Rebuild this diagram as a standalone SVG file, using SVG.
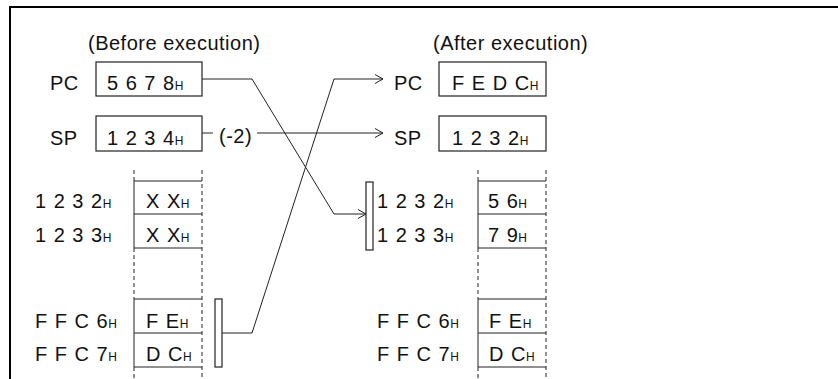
<svg xmlns="http://www.w3.org/2000/svg" width="838" height="379" viewBox="0 0 838 379">
<style>
text{font-family:"Liberation Sans",Arial,sans-serif;font-size:20px;letter-spacing:0.5px;fill:#111}
.n{word-spacing:1px}
.h{font-size:12px;letter-spacing:0}
.box{fill:#fff;stroke:#222;stroke-width:1.2}
.ln{fill:none;stroke:#222;stroke-width:1}
.ds{fill:none;stroke:#222;stroke-width:1;stroke-dasharray:4 3}
.frame{fill:none;stroke:#000;stroke-width:2}
</style>
<defs>
<marker id="arr" markerUnits="userSpaceOnUse" markerWidth="12" markerHeight="12" refX="9" refY="5" orient="auto">
<path d="M1,0.5 L9,5 L1,9.5" fill="none" stroke="#222" stroke-width="1"/>
</marker>
</defs>
<rect width="838" height="379" fill="#fff"/>
<path class="frame" d="M10,379 V7 H838"/>

<g id="titles">
<text x="88" y="50">(Before execution)</text>
<text x="433" y="50">(After execution)</text>
</g>

<g id="pc-before">
<text x="50" y="90">PC</text>
<rect class="box" x="96" y="62" width="106" height="34"/>
<text class="n" x="107" y="90">5 6 7 8<tspan class="h">H</tspan></text>
</g>
<g id="sp-before">
<text x="50" y="145">SP</text>
<rect class="box" x="96" y="116" width="106" height="35"/>
<text class="n" x="107" y="145">1 2 3 4<tspan class="h">H</tspan></text>
</g>
<g id="minus2">
<text x="219" y="143">(-2)</text>
</g>

<g id="pc-after">
<text x="394" y="90">PC</text>
<rect class="box" x="439" y="62" width="107" height="34"/>
<text class="n" x="452" y="90">F E D C<tspan class="h">H</tspan></text>
</g>
<g id="sp-after">
<text x="394" y="145">SP</text>
<rect class="box" x="439" y="116" width="107" height="35"/>
<text class="n" x="452" y="145">1 2 3 2<tspan class="h">H</tspan></text>
</g>

<g id="mem-before">
<path class="ds" d="M134,170 V181 M134,248 V299 M134,367 V379 M202,170 V379"/>
<path class="ln" d="M202,181 H134 V248 H202 M134,214 H202 M202,299 H134 V367 H202 M134,333 H202"/>
<text class="n" x="35" y="208">1 2 3 2<tspan class="h">H</tspan></text>
<text class="n" x="35" y="242">1 2 3 3<tspan class="h">H</tspan></text>
<text class="n" x="35" y="328">F F C 6<tspan class="h">H</tspan></text>
<text class="n" x="35" y="361">F F C 7<tspan class="h">H</tspan></text>
<text class="n" x="146" y="208">X X<tspan class="h">H</tspan></text>
<text class="n" x="146" y="242">X X<tspan class="h">H</tspan></text>
<text class="n" x="146" y="328">F E<tspan class="h">H</tspan></text>
<text class="n" x="146" y="361">D C<tspan class="h">H</tspan></text>
</g>

<g id="mem-after">
<path class="ds" d="M478,170 V181 M478,248 V299 M478,367 V379 M546,170 V379"/>
<path class="ln" d="M546,181 H478 V248 H546 M478,214 H546 M546,299 H478 V367 H546 M478,333 H546"/>
<text class="n" x="377" y="208">1 2 3 2<tspan class="h">H</tspan></text>
<text class="n" x="377" y="242">1 2 3 3<tspan class="h">H</tspan></text>
<text class="n" x="377" y="328">F F C 6<tspan class="h">H</tspan></text>
<text class="n" x="377" y="361">F F C 7<tspan class="h">H</tspan></text>
<text class="n" x="488" y="208">5 6<tspan class="h">H</tspan></text>
<text class="n" x="488" y="242">7 9<tspan class="h">H</tspan></text>
<text class="n" x="489" y="328">F E<tspan class="h">H</tspan></text>
<text class="n" x="489" y="361">D C<tspan class="h">H</tspan></text>
</g>

<g id="bar-before">
<rect class="box" x="215" y="299" width="7" height="68"/>
</g>
<g id="bar-after">
<rect class="box" x="366" y="182" width="7" height="68"/>
</g>

<g id="connectors">
<path class="ln" d="M202,79 H252 L334,214 H366" marker-end="url(#arr)"/>
<path class="ln" d="M202,133 H213"/>
<path class="ln" d="M257,133 H383" marker-end="url(#arr)"/>
<path class="ln" d="M222,333 H252 L334,79 H383" marker-end="url(#arr)"/>
</g>
</svg>
